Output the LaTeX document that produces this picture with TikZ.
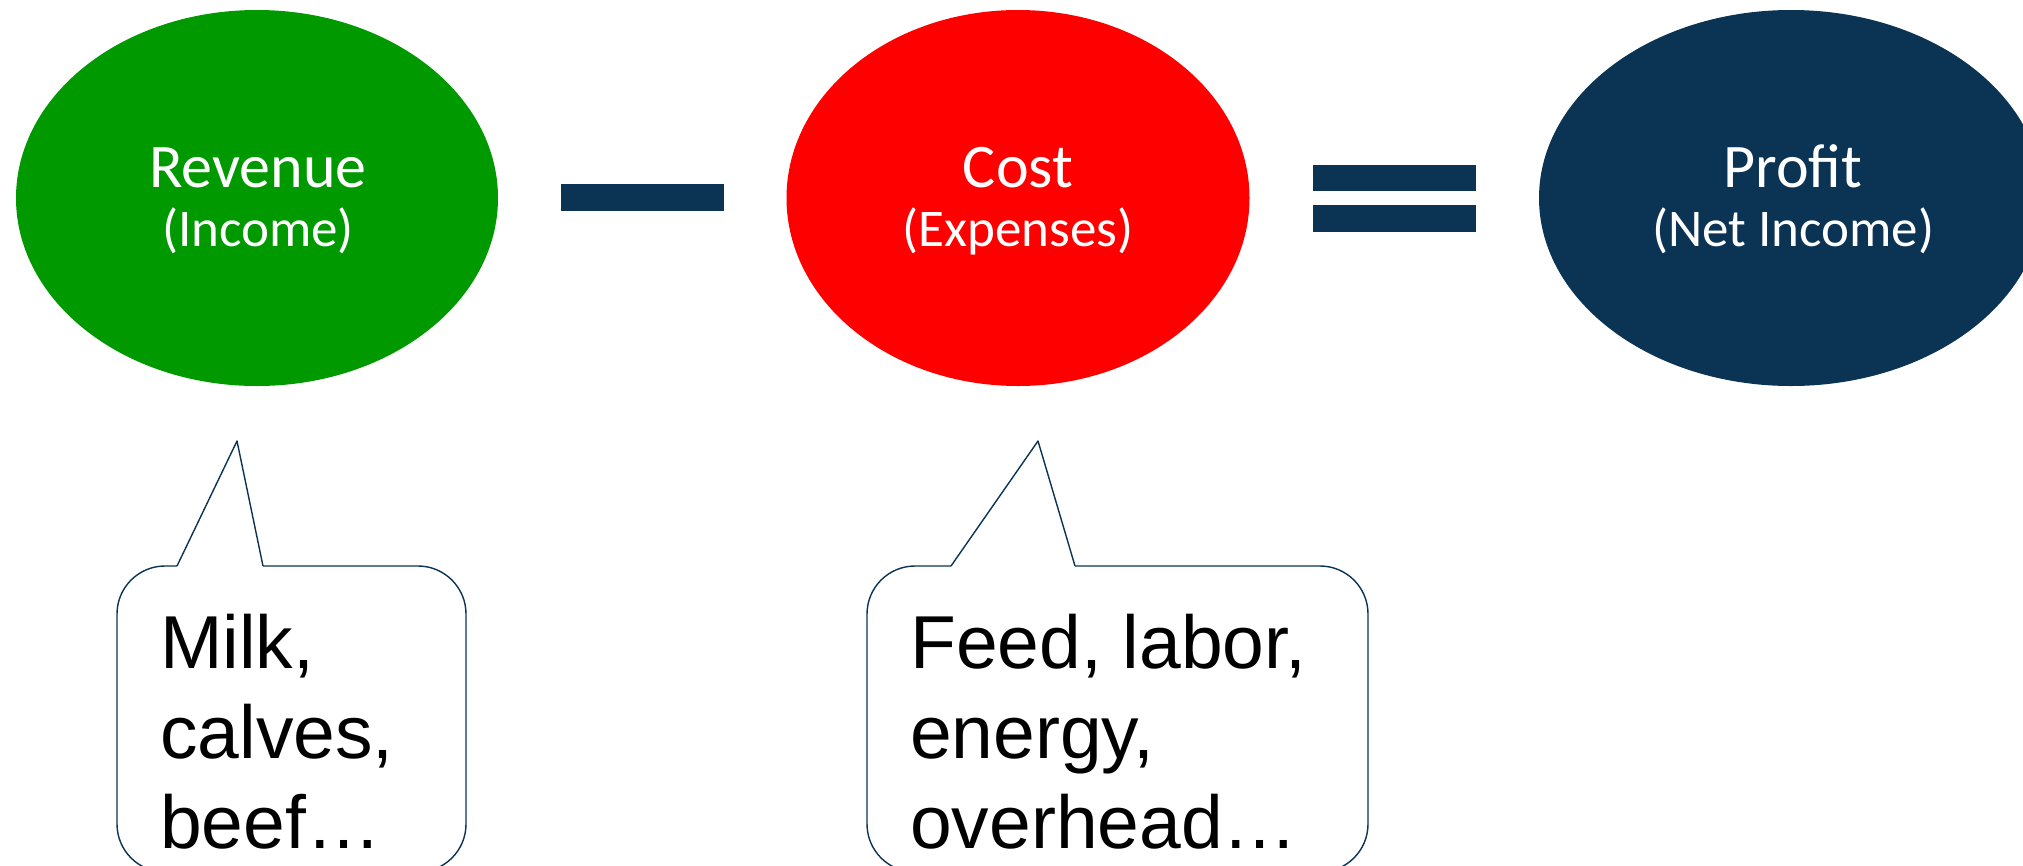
\documentclass[tikz,border=0pt]{standalone}
\usepackage{fontspec}
\setmainfont{Liberation Sans}
\newfontfamily\calib{Carlito}
\usetikzlibrary{shapes.geometric}
\definecolor{navy}{RGB}{10,51,84}
\definecolor{revgreen}{RGB}{0,153,0}
\definecolor{costred}{RGB}{255,0,0}
\tikzset{
  blob/.style={ellipse, inner sep=0pt, minimum height=376pt},
  head/.style={anchor=base, text=white, font=\calib\fontsize{62}{74}\selectfont, inner sep=0pt},
  subhead/.style={anchor=base, text=white, font=\calib\fontsize{53}{64}\selectfont, inner sep=0pt},
  opbar/.style={fill=navy},
  bubble/.style={draw=navy, line width=1.4pt, line join=round},
  say/.style={anchor=base west, font=\fontsize{75}{90}\selectfont, inner sep=0pt}
}
\begin{document}
\begin{tikzpicture}[x=1pt, y=-1pt]
\useasboundingbox (0,0) rectangle (2023,865);
\clip (0,0) rectangle (2023,865);

% the three terms of the equation
\node[blob, fill=revgreen, minimum width=482pt] (rev) at (257,198) {};
\node[blob, fill=costred, minimum width=463pt] (cost) at (1018,198) {};
\node[blob, fill=navy, minimum width=504pt] (prof) at (1791,198) {};

\node[head] (revt) at (258,187) {Revenue};
\node[subhead] (revs) at (258,246) {(Income)};
\node[head] (costt) at (1018,187) {Cost};
\node[subhead] (costs) at (1018,246) {(Expenses)};
\node[head] (proft) at (1793,187) {Profit};
\node[subhead] (profs) at (1793,246) {(Net Income)};

% minus and equals signs
\fill[opbar] (561,184) rectangle (724,211);
\fill[opbar] (1313,165) rectangle (1476,191);
\fill[opbar] (1313,205) rectangle (1476,232);

% callout under Revenue
\coordinate (lt) at (237,441);
\draw[bubble, rounded corners=48pt] (263,566) -- (466,566) -- (466,872) -- (117,872) -- (117,566) -- (177,566);
\draw[bubble] (177,566) -- (lt) -- (263,566);
\node[say] (l1) at (160,668) {Milk,};
\node[say] (l2) at (160,758) {calves,};
\node[say] (l3) at (160,848) {beef…};

% callout under Cost
\coordinate (rt) at (1038,441);
\draw[bubble, rounded corners=48pt] (1075,566) -- (1368,566) -- (1368,872) -- (867,872) -- (867,566) -- (951,566);
\draw[bubble] (951,566) -- (rt) -- (1075,566);
\node[say] (r1) at (910,668) {Feed, labor,};
\node[say] (r2) at (910,758) {energy,};
\node[say] (r3) at (910,848) {overhead…};
\end{tikzpicture}
\end{document}
